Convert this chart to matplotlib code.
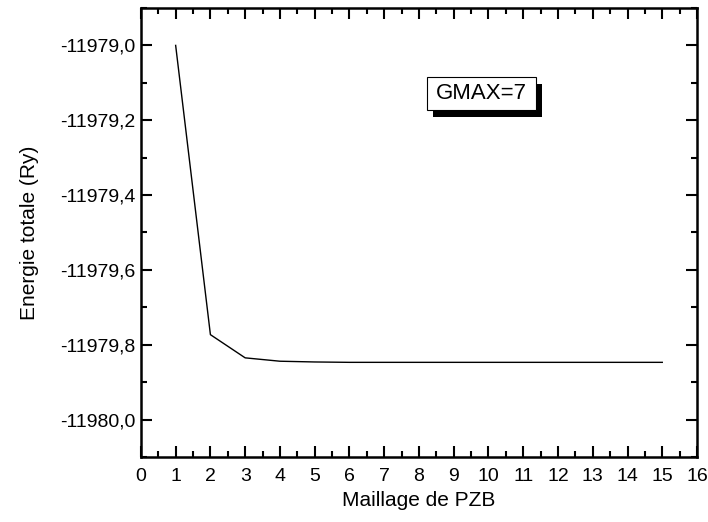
import matplotlib
matplotlib.use("Agg")
import matplotlib.pyplot as plt
from matplotlib.ticker import MultipleLocator, FuncFormatter
from matplotlib.patches import Rectangle

plt.rcParams['font.family'] = ['Liberation Sans', 'DejaVu Sans']

x = [1, 2, 3, 4, 5, 6, 7, 8, 9, 10, 11, 12, 13, 14, 15]
energy = [-11979.000, -11979.773, -11979.835, -11979.844, -11979.846, -11979.847,
          -11979.847, -11979.847, -11979.847, -11979.847, -11979.847, -11979.847,
          -11979.847, -11979.847, -11979.847]
label_text = "GMAX=7"

fig = plt.figure(figsize=(7.08, 5.22), dpi=100)
ax = fig.add_axes([0.199, 0.1245, 0.7855, 0.8602])
ax.plot(x, energy, color='black', lw=1.0)

ax.set_xlim(0, 16)
ax.set_ylim(-11980.1, -11978.9)
ax.xaxis.set_major_locator(MultipleLocator(1))
ax.xaxis.set_minor_locator(MultipleLocator(0.5))
ax.yaxis.set_major_locator(MultipleLocator(0.2))
ax.yaxis.set_minor_locator(MultipleLocator(0.1))
ax.yaxis.set_major_formatter(FuncFormatter(lambda v, p: f"{v:.1f}".replace('.', ',')))
ax.tick_params(which='both', direction='in', top=True, right=True, width=1.5, labelsize=14)
ax.tick_params(which='major', length=8)
ax.tick_params(axis='x', which='major', pad=8)
ax.tick_params(axis='y', which='major', pad=4)
ax.tick_params(which='minor', length=4)
for s in ax.spines.values():
    s.set_linewidth(1.8)

ax.set_xlabel("Maillage de PZB", fontsize=15, labelpad=4)
ax.set_ylabel("Energie totale (Ry)", fontsize=15, labelpad=15)

# annotation box with shadow
bx0, by0, bw, bh = 0.514, 0.7728, 0.196, 0.0735
dx, dy = 0.0108, 0.0156
ax.add_patch(Rectangle((bx0 + dx, by0 - dy), bw, bh, transform=ax.transAxes,
                       facecolor='black', edgecolor='black', lw=0, zorder=3))
ax.add_patch(Rectangle((bx0, by0), bw, bh, transform=ax.transAxes,
                       facecolor='white', edgecolor='black', lw=0.8, zorder=4))
ax.text(bx0 + bw / 2, by0 + bh / 2, label_text, transform=ax.transAxes,
        ha='center', va='center', fontsize=16, zorder=5)

fig.savefig("out.png", dpi=100)
